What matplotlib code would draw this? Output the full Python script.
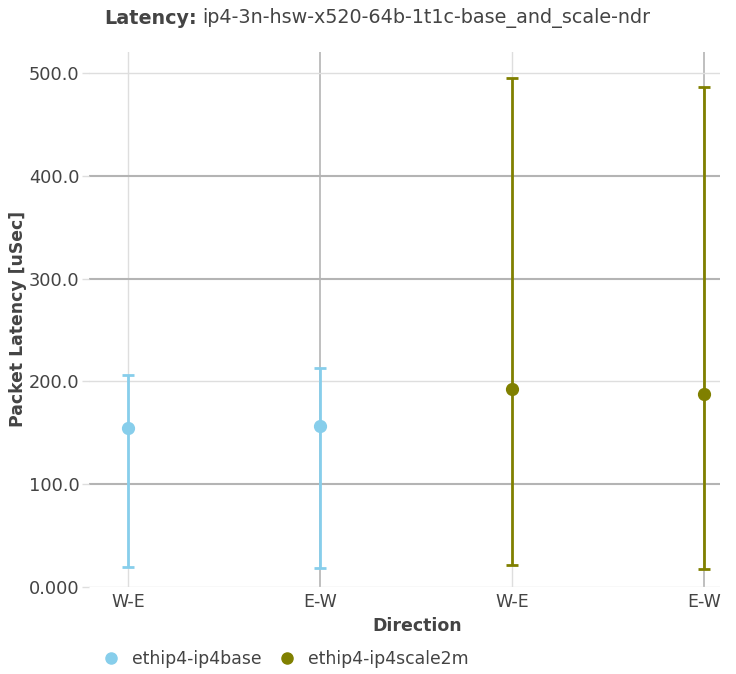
import numpy as np
import matplotlib
matplotlib.use("Agg")
import matplotlib.pyplot as plt
from matplotlib.lines import Line2D

plt.rcParams['font.family'] = ['DejaVu Sans']

# data
directions = ["W-E", "E-W", "W-E", "E-W"]
base_avg = [154.7, 156.6]
base_min = [19.5, 18.5]
base_max = [206.2, 213.0]
scale_avg = [192.6, 187.7]
scale_min = [21.4, 17.5]
scale_max = [495.0, 486.4]
yticks = [0, 100, 200, 300, 400, 500]
ytick_labels = ["0.000", "100.0", "200.0", "300.0", "400.0", "500.0"]

TXT = "#444444"
LIGHT = "#dedede"
DARK = "#b4b4b4"

fig = plt.figure(figsize=(7.36, 6.74), dpi=100)
ax = fig.add_axes([89 / 736, 1 - 587 / 674, (720 - 89) / 736, (587 - 52) / 674])

x = np.arange(len(directions))

# gridlines (mixed shades as in the reference)
for xi, c in zip(x, [LIGHT, DARK, LIGHT, DARK]):
    ax.axvline(xi, color=c, lw=1.2 if c == DARK else 1.0, zorder=0)
for yv, c in zip(yticks, [LIGHT, DARK, LIGHT, DARK, DARK, LIGHT]):
    ax.axhline(yv, color=c, lw=1.5 if c == DARK else 1.0, zorder=0)

def draw(xs, avg, lo, hi, color):
    avg = np.array(avg)
    err = [avg - np.array(lo), np.array(hi) - avg]
    ax.errorbar(xs, avg, yerr=err, fmt="o", color=color, ms=8.5,
                elinewidth=2, capsize=4, capthick=2, zorder=3)

draw(x[:2], base_avg, base_min, base_max, "#87ceeb")
draw(x[2:], scale_avg, scale_min, scale_max, "#808000")

ax.set_xlim(-0.203, 3.083)
ax.set_ylim(0, 520.4)
ax.set_xticks(x)
ax.set_xticklabels(directions)
ax.set_yticks(yticks)
ax.set_yticklabels(ytick_labels)
for s in ax.spines.values():
    s.set_visible(False)
ax.tick_params(axis="x", length=0, pad=4, labelsize=12.5, colors=TXT)
ax.tick_params(axis="y", length=5, width=1, color=LIGHT, pad=2, labelsize=12.8, colors=TXT)

ax.set_xlabel("Direction", fontsize=12.5, fontweight="bold", color=TXT)
ax.set_ylabel("Packet Latency [uSec]", fontsize=12.4, fontweight="bold", color=TXT)
ax.xaxis.set_label_coords((417 - 89) / 631, -(626 - 587) / 535, transform=ax.transAxes)
ax.xaxis.label.set_va("center")
ax.yaxis.set_label_coords(-(89 - 18) / 631, (587 - 319) / 535, transform=ax.transAxes)
ax.yaxis.label.set_va("center")

# title: bold prefix followed by regular text
ty = 1 - 18 / 674
t1 = fig.text(104 / 736, ty, "Latency:", ha="left", va="center",
              fontsize=13.8, fontweight="bold", color=TXT)
fig.canvas.draw()
bb = t1.get_window_extent()
fig.text((bb.x1 + 6) / 736, ty, "ip4-3n-hsw-x520-64b-1t1c-base_and_scale-ndr",
         ha="left", va="center", fontsize=13.8, color=TXT)

handles = [Line2D([], [], ls="none", marker="o", ms=8, color="#87ceeb"),
           Line2D([], [], ls="none", marker="o", ms=8, color="#808000")]
fig.legend(handles, ["ethip4-ip4base", "ethip4-ip4scale2m"], loc="center left",
           bbox_to_anchor=(101 / 736, 1 - 659 / 674), ncol=2, frameon=False,
           fontsize=12.4, labelcolor=TXT, handletextpad=0.62, columnspacing=0.85,
           handlelength=1.2, borderaxespad=0, borderpad=0)

fig.savefig("out.png", dpi=100)
